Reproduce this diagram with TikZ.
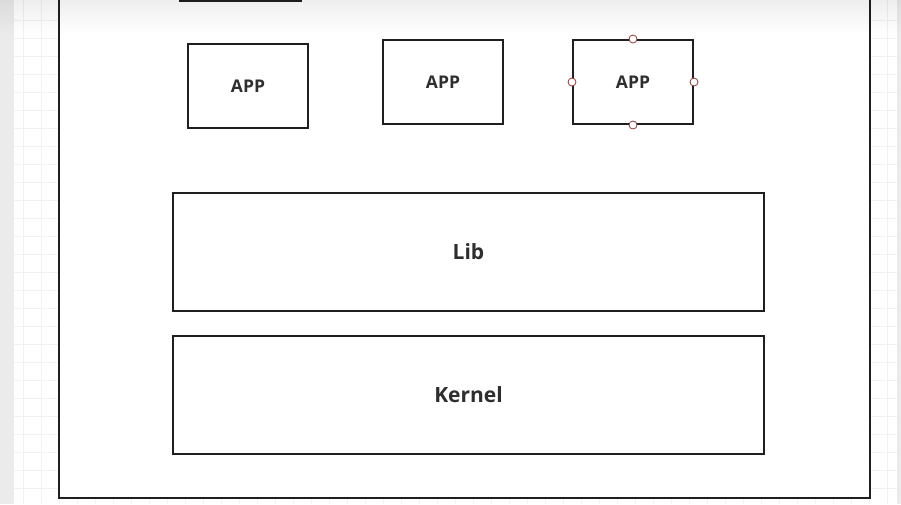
\documentclass[tikz,border=0pt]{standalone}
\usepackage{fontspec}
\setmainfont{Open Sans}
\usetikzlibrary{positioning}

\definecolor{gridline}{HTML}{F1F1F1}
\definecolor{margin}{HTML}{EBEBEB}
\definecolor{handle}{HTML}{8B3A3A}

\tikzset{
    box/.style={draw=black!88, line width=2pt, fill=white, inner sep=0pt, text=black!82},
    appbox/.style={box, minimum width=120pt, minimum height=84pt, font=\fontsize{17.5}{20}\selectfont\bfseries},
    layerbox/.style={box, minimum width=591pt, minimum height=118pt, font=\fontsize{21}{24}\selectfont\bfseries},
    grip/.style={circle, draw=handle, fill=white, line width=0.8pt, minimum size=8pt, inner sep=0pt},
}

\begin{document}
\begin{tikzpicture}[x=1pt, y=-1pt]
    \def\w{901};
    \def\h{504};

    \useasboundingbox (0, 0) rectangle (\w, \h);
    \clip (0, 0) rectangle (\w, \h);

    % canvas with grid
    \fill[white] (0, 0) rectangle (\w, \h);
    \foreach \x in {23, 41, ..., 887}
        \draw[gridline, line width=1pt] (\x, 0) -- (\x, \h);
    \foreach \y in {20, 38, ..., 488}
        \draw[gridline, line width=1pt] (0, \y) -- (\w, \y);
    \fill[margin] (0, 0) rectangle (14, \h);
    \fill[margin] (897, 0) rectangle (\w, \h);

    % outer frame, top cut off
    \node[box, minimum width=811.5pt, minimum height=520pt] (system) at (464.25, 238) {};

    % box above, only its bottom edge shows
    \node[box, minimum width=121pt, minimum height=40pt] (above) at (240.5, -19) {};

    % top shadow
    \foreach \i in {0, 1, ..., 34}
        \fill[black, opacity={0.065 * (1 - \i / 35)}] (0, \i) rectangle (\w, \i + 1);

    \node[appbox] (app1) at (248, 86) {APP};
    \node[appbox] (app2) at (443, 82) {APP};
    \node[appbox] (app3) at (633, 82) {APP};

    \node[grip] (gripn) at (app3.north) {};
    \node[grip] (grips) at (app3.south) {};
    \node[grip] (gripw) at (app3.west) {};
    \node[grip] (gripe) at (app3.east) {};

    \node[layerbox] (lib) at (468.5, 252) {Lib};
    \node[layerbox, below=23pt of lib] (kernel) {Kernel};
\end{tikzpicture}
\end{document}
